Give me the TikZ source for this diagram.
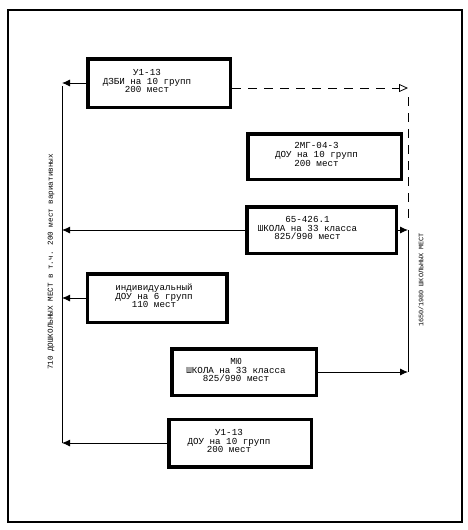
\documentclass[tikz,border=0pt]{standalone}
\usepackage{fontspec}
\setmainfont{Liberation Mono}
\usetikzlibrary{arrows.meta}
\begin{document}
\begin{tikzpicture}[x=1pt,y=-1pt,
  box/.style={draw,line width=3.5pt,inner sep=0pt},
  txt/.style={align=center,font=\fontsize{9.2}{8.7}\selectfont,inner sep=0pt},
  conn/.style={line width=0.9pt},
  arr/.style={conn,-{Latex[length=8pt,width=7pt]}},
  dsh/.style={line width=0.8pt,dash pattern=on 9pt off 7pt},
  side/.style={rotate=90,inner sep=0pt}]
\useasboundingbox (0,0) rectangle (468,530);
\draw[line width=1.1pt] (8,10) rectangle (462,522);

\node[box,minimum width=142.5pt,minimum height=48.5pt] (b1) at (159,83) {};
\node[box,minimum width=153.5pt,minimum height=45.5pt] (b2) at (324.5,156.5) {};
\node[box,minimum width=149.5pt,minimum height=46.5pt] (b3) at (321.5,230) {};
\node[box,minimum width=139.5pt,minimum height=48.5pt] (b4) at (157,298) {};
\node[box,minimum width=144.5pt,minimum height=46.5pt] (b5) at (244,372) {};
\node[box,minimum width=142.5pt,minimum height=47.5pt] (b6) at (240,443) {};

\node[txt] (t1) at ([xshift=-12pt,yshift=2pt]b1.center) {У1-13\\ДЗБИ на 10 групп\\200 мест};
\node[txt] (t2) at ([xshift=-8pt,yshift=2pt]b2.center) {2МГ-04-3\\ДОУ на 10 групп\\200 мест};
\node[txt] (t3) at ([xshift=-14pt,yshift=2pt]b3.center) {65-426.1\\ШКОЛА на 33 класса\\825/990 мест};
\node[txt] (t4) at ([xshift=-3pt,yshift=2pt]b4.center) {индивидуальный\\ДОУ на 6 групп\\110 мест};
\node[txt] (t5) at ([xshift=-8pt,yshift=2pt]b5.center) {МЮ\\ШКОЛА на 33 класса\\825/990 мест};
\node[txt] (t6) at ([xshift=-11pt,yshift=2pt]b6.center) {У1-13\\ДОУ на 10 групп\\200 мест};

\coordinate (L1) at (62,83);
\coordinate (L2) at (62,443);
\coordinate (R1) at (408,230);
\coordinate (R2) at (408,372);
\coordinate (D1) at (408,88);
\coordinate (D2) at (408,97);

\draw[arr] (b1.west) -- (L1);
\draw[conn] ([yshift=-3pt]L1) -- (L2);
\draw[arr] (b3.west) -- (b3.west -| L1);
\draw[arr] (b4.west) -- (b4.west -| L1);
\draw[arr] (b6.west) -- (L2);

\draw[dsh] (D2) -- ([yshift=8pt]R1);
\draw[conn] (R1) -- (R2);
\draw[arr] (b3.east) -- (R1);
\draw[arr] (b5.east) -- (R2);

\draw[dsh,-{Triangle[open,length=9pt,width=8pt,line width=0.8pt]}] ([yshift=-5pt]b1.east) -- (D1);

\node[side,font=\fontsize{7.6}{8}\selectfont] (lt) at (51,262) {710 ДОШКОЛЬНЫХ МЕСТ в т.ч. 200 мест вариативных};
\node[side,font=\fontsize{6.8}{7}\selectfont] (rt) at (421,280) {1650/1980 ШКОЛЬНЫХ МЕСТ};
\end{tikzpicture}
\end{document}
